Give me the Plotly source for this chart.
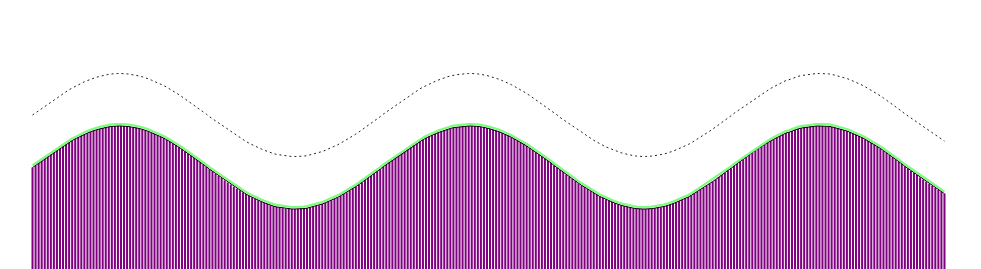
import plotly.graph_objects as go

# Sine-wave series (one value per bar; the bar tops)
values = [
    0.00, 0.05, 0.11, 0.16, 0.22, 0.27, 0.32, 0.37, 0.42, 0.47,
    0.52, 0.57, 0.61, 0.65, 0.69, 0.73, 0.77, 0.80, 0.83, 0.86,
    0.89, 0.91, 0.93, 0.95, 0.97, 0.98, 0.99, 1.00, 1.00, 1.00,
    1.00, 0.99, 0.98, 0.97, 0.96, 0.94, 0.92, 0.90, 0.87, 0.84,
    0.81, 0.78, 0.74, 0.71, 0.67, 0.63, 0.58, 0.54, 0.49, 0.44,
    0.39, 0.34, 0.29, 0.23, 0.18, 0.13, 0.07, 0.02, -0.04, -0.09,
    -0.15, -0.20, -0.25, -0.31, -0.36, -0.41, -0.46, -0.51, -0.55, -0.60,
    -0.64, -0.68, -0.72, -0.76, -0.79, -0.82, -0.85, -0.88, -0.91, -0.93,
    -0.95, -0.96, -0.98, -0.99, -0.99, -1.00, -1.00, -1.00, -0.99, -0.99,
    -0.98, -0.96, -0.95, -0.93, -0.91, -0.88, -0.85, -0.82, -0.79, -0.76,
    -0.72, -0.68, -0.64, -0.60, -0.55, -0.50, -0.46, -0.41, -0.36, -0.30,
    -0.25, -0.20, -0.14, -0.09, -0.04, 0.02, 0.07, 0.13, 0.18, 0.24,
    0.29, 0.34, 0.39, 0.44, 0.49, 0.54, 0.58, 0.63, 0.67, 0.71,
    0.75, 0.78, 0.81, 0.84, 0.87, 0.90, 0.92, 0.94, 0.96, 0.97,
    0.98, 0.99, 1.00, 1.00, 1.00, 1.00, 0.99, 0.98, 0.97, 0.95,
    0.93, 0.91, 0.89, 0.86, 0.83, 0.80, 0.77, 0.73, 0.69, 0.65,
    0.61, 0.57, 0.52, 0.47, 0.42, 0.37, 0.32, 0.27, 0.22, 0.16,
    0.11, 0.05, 0.00, -0.06, -0.11, -0.17, -0.22, -0.27, -0.32, -0.38,
    -0.43, -0.47, -0.52, -0.57, -0.61, -0.65, -0.70, -0.73, -0.77, -0.80,
    -0.83, -0.86, -0.89, -0.91, -0.93, -0.95, -0.97, -0.98, -0.99, -1.00,
    -1.00, -1.00, -1.00, -0.99, -0.98, -0.97, -0.96, -0.94, -0.92, -0.90,
    -0.87, -0.84, -0.81, -0.78, -0.74, -0.71, -0.67, -0.62, -0.58, -0.53,
    -0.49, -0.44, -0.39, -0.34, -0.29, -0.23, -0.18, -0.13, -0.07, -0.02,
    0.04, 0.09, 0.15, 0.20, 0.25, 0.31, 0.36, 0.41, 0.46, 0.51,
    0.55, 0.60, 0.64, 0.68, 0.72, 0.76, 0.79, 0.83, 0.85, 0.88,
    0.91, 0.93, 0.95, 0.96, 0.98, 0.99, 0.99, 1.00, 1.00, 1.00,
    0.99, 0.99, 0.98, 0.96, 0.95, 0.93, 0.90, 0.88, 0.85, 0.82,
    0.79, 0.76, 0.72, 0.68, 0.64, 0.59, 0.55, 0.50, 0.46, 0.41,
    0.36, 0.30, 0.25, 0.20, 0.14, 0.09, 0.03, -0.02, -0.08, -0.13,
    -0.18, -0.24, -0.29, -0.34, -0.39, -0.44, -0.49, -0.54, -0.58, -0.63,
]
positions = list(range(len(values)))
# bars hang down from each value to below the visible floor of the plot
bar_depth = [-6] * len(values)

fig = go.Figure()
fig.add_trace(go.Bar(x=positions, y=bar_depth, base=values,
                     marker=dict(color="#800080", line=dict(width=0)),
                     showlegend=False, hoverinfo="skip"))
fig.add_trace(go.Scatter(x=positions, y=values, mode="lines", line=dict(color="#000000", width=1),
                         showlegend=False, hoverinfo="skip"))
fig.add_trace(go.Scatter(x=positions, y=values, mode="lines", yaxis="y3",
                         line=dict(color="#7dfc7d", width=2.2), showlegend=False, hoverinfo="skip"))
fig.add_trace(go.Scatter(x=positions, y=values, mode="lines", yaxis="y2",
                         line=dict(color="#222222", width=1, dash="2px,3px"), showlegend=False, hoverinfo="skip"))

hidden = dict(showticklabels=False, showgrid=False, zeroline=False, showline=False, ticks="")
fig.update_layout(
    width=981, height=269,
    margin=dict(l=31, r=35, t=0, b=0, pad=0),
    paper_bgcolor="white", plot_bgcolor="white",
    bargap=0.33,
    xaxis=dict(range=[-0.5, len(values) - 0.5], **hidden),
    yaxis=dict(range=[-2.446, 4.036], **hidden),
    yaxis2=dict(range=[-3.711, 2.771], overlaying="y", visible=False),
    yaxis3=dict(range=[-2.494, 3.988], overlaying="y", visible=False),
)
fig.write_html("out.html")
